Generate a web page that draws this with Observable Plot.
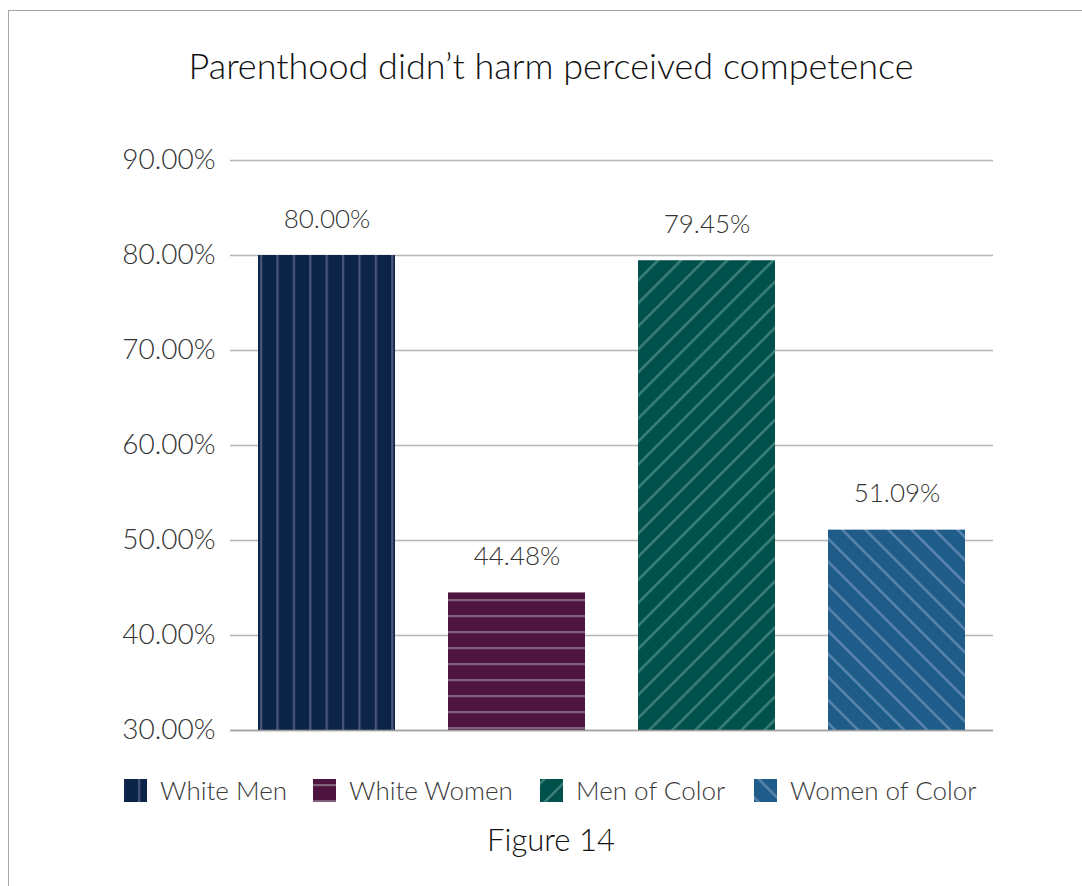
<!DOCTYPE html>
<html>
<head>
<meta charset="utf-8">
<script src="https://cdn.jsdelivr.net/npm/d3@7"></script>
<script src="https://cdn.jsdelivr.net/npm/@observablehq/plot@0.6"></script>
<style>
  html, body { margin: 0; padding: 0; background: #fff; width: 1082px; height: 886px; overflow: hidden; }
  body { position: relative; font-family: Lato, "Open Sans", sans-serif; font-weight: 300; }
  #frame { position: absolute; left: 8px; top: 10px; width: 1200px; height: 1000px; border: 1px solid #a6a6a6; box-sizing: border-box; }
  #title { position: absolute; left: 10px; width: 1082px; top: 43px; text-align: center; font-size: 36px; color: #111; font-weight: 300; }
  #chart { position: absolute; left: 0; top: 130px; }
  #legend { position: absolute; left: 0; top: 772px; width: 1082px; height: 36px; }
  .item { position: absolute; top: 0; display: flex; align-items: center; height: 36px; font-size: 26px; color: #3a3a3a; }
  .item svg { margin-right: 13px; }
  #caption { position: absolute; left: 10px; width: 1082px; top: 820px; text-align: center; font-size: 31px; color: #111; font-weight: 300; }
</style>
</head>
<body>
<div id="frame"></div>
<div id="title">Parenthood didn’t harm perceived competence</div>
<div id="chart"></div>
<div id="legend"></div>
<div id="caption">Figure 14</div>
<script>
const categories = ["White Men", "White Women", "Men of Color", "Women of Color"];
const values = [80.00, 44.48, 79.45, 51.09];
const yTicks = [30, 40, 50, 60, 70, 80, 90];
const patternIds = ["pat-wm", "pat-ww", "pat-mc", "pat-wc"];
const baseColors = ["#0d2449", "#4e1440", "#00514c", "#1f5c89"];
const stripeColors = ["#4b5679", "#80607a", "#3f807b", "#5c87ae"];
const legendX = [124, 313, 540, 754];

const data = categories.map((c, i) => ({category: c, value: values[i], pattern: `url(#${patternIds[i]})`}));

function defsMarkup() {
  return `
  <pattern id="pat-wm" patternUnits="userSpaceOnUse" width="16.4" height="10" x="258">
    <rect width="16.4" height="10" fill="${baseColors[0]}"/>
    <rect x="2" width="2.2" height="10" fill="${stripeColors[0]}"/>
  </pattern>
  <pattern id="pat-ww" patternUnits="userSpaceOnUse" width="10" height="16" y="3">
    <rect width="10" height="16" fill="${baseColors[1]}"/>
    <rect y="2" width="10" height="2.2" fill="${stripeColors[1]}"/>
  </pattern>
  <pattern id="pat-mc" patternUnits="userSpaceOnUse" width="16.3" height="10" patternTransform="rotate(45)">
    <rect width="16.3" height="10" fill="${baseColors[2]}"/>
    <rect x="2" width="2.4" height="10" fill="${stripeColors[2]}"/>
  </pattern>
  <pattern id="pat-wc" patternUnits="userSpaceOnUse" width="16.3" height="10" patternTransform="rotate(-45)">
    <rect width="16.3" height="10" fill="${baseColors[3]}"/>
    <rect x="2" width="2.4" height="10" fill="${stripeColors[3]}"/>
  </pattern>`;
}

const fmt = d => d.toFixed(2) + "%";

const chart = Plot.plot({
  width: 1082,
  height: 620,
  marginTop: 30,
  marginBottom: 20,
  marginLeft: 230,
  marginRight: 89,
  style: {fontFamily: "Lato, 'Open Sans', sans-serif", fontWeight: 300, background: "transparent"},
  x: {domain: categories, paddingInner: 0.28, paddingOuter: 0.14, axis: null},
  y: {domain: [30, 90], ticks: yTicks, tickFormat: fmt, tickSize: 0, tickPadding: 15, label: null},
  color: {type: "identity"},
  marks: [
    Plot.ruleY(yTicks, {stroke: "#b5b5b5", strokeWidth: 1.5}),
    Plot.barY(data, {x: "category", y1: 30, y2: "value", fill: "pattern"}),
    Plot.ruleY([30], {stroke: "#a0a0a0", strokeWidth: 1.5}),
    Plot.text(data, {x: "category", y: "value", text: d => fmt(d.value), dy: -36, lineAnchor: "middle", fontSize: 26, fill: "#333", fontWeight: 300})
  ]
});

// add pattern definitions
const ns = "http://www.w3.org/2000/svg";
const defs = document.createElementNS(ns, "defs");
defs.innerHTML = defsMarkup();
chart.insertBefore(defs, chart.firstChild);
// y axis tick label styling
chart.querySelectorAll("g[aria-label='y-axis tick label']").forEach(el => {
  el.setAttribute("font-size", "28");
  el.setAttribute("fill", "#333");
});
document.getElementById("chart").appendChild(chart);

// legend
const legend = document.getElementById("legend");
categories.forEach((c, i) => {
  const item = document.createElement("div");
  item.className = "item";
  item.style.left = legendX[i] + "px";
  item.innerHTML = `<svg width="23" height="23"><rect width="23" height="23" fill="url(#${patternIds[i]})"/></svg><span>${c}</span>`;
  legend.appendChild(item);
});
</script>
</body>
</html>
